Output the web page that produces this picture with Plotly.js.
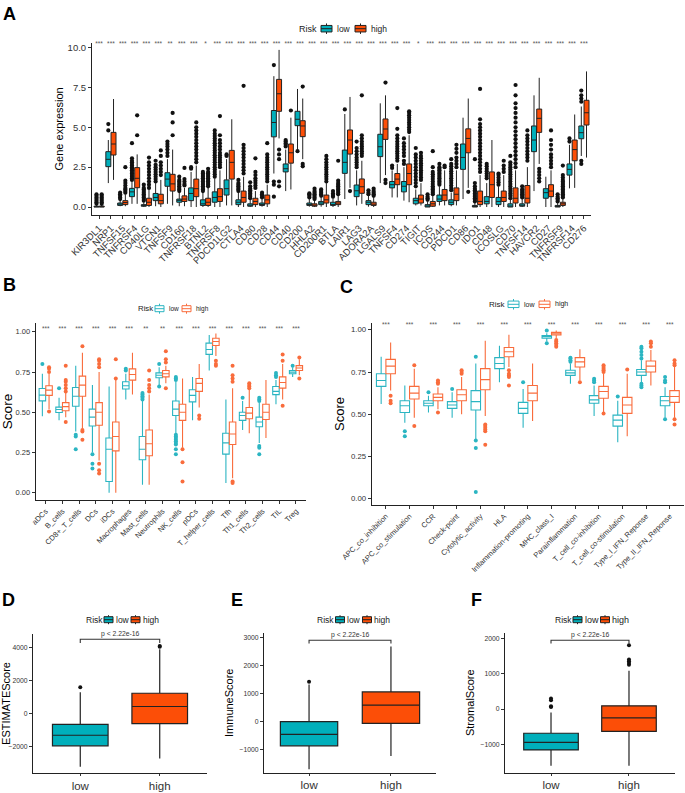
<!DOCTYPE html>
<html><head><meta charset="utf-8">
<script src="https://cdn.plot.ly/plotly-3.0.1.min.js"></script>
<style>html,body{margin:0;padding:0;background:#fff}#chart{width:685px;height:793px}</style>
</head><body><div id="chart"></div>
<script>
// ---------------- DATA ----------------
const legendTitle = "Risk";
const groups = ["low", "high"];
const genesA = ["KIR3DL1","NRP1","TNFSF15","TNFRSF4","CD40LG","VTCN1","TNFSF9","CD160","TNFRSF18","BTNL2","TNFRSF8","PDCD1LG2","CTLA4","CD80","CD28","CD44","CD40","CD200","HHLA2","CD200R1","BTLA","LAIR1","LAG3","ADORA2A","LGALS9","TNFSF4","CD274","TIGIT","ICOS","CD244","PDCD1","CD86","IDO1","CD48","ICOSLG","CD70","TNFSF14","HAVCR2","CD27","TNFRSF9","TNFRSF14","CD276"];
const sigA = ["***","***","***","***","***","***","**","***","***","*","***","***","***","***","***","***","***","***","***","***","***","***","***","***","***","***","***","*","***","***","***","***","***","***","***","***","***","***","***","***","***","***"];
// [q1, median, q3, lower whisker, upper whisker]
const A_low = [
[0,0.02,0.05,0,0.1],[2.53,2.99,3.47,1.5,4.2],[0.1,0.18,0.25,0.05,0.4],[0.65,0.95,1.17,0.2,1.6],[0.05,0.08,0.15,0,0.3],
[0.4,0.6,0.85,0.05,1.5],[1.3,1.75,2.15,0.2,3.0],[0.3,0.42,0.5,0.05,0.9],[0.4,0.85,1.2,0,2.2],[0.1,0.2,0.45,0,0.9],
[0.3,0.6,0.95,0,1.8],[0.75,1.15,1.7,0.1,3.0],[0.15,0.3,0.45,0,0.9],[0.05,0.1,0.2,0,0.45],[0.1,0.15,0.25,0.02,0.5],
[4.4,5.3,6.05,2.1,8.2],[2.2,2.4,2.7,1.0,3.6],[5.1,5.5,6.0,3.6,7.4],[0.1,0.15,0.25,0.02,0.5],[0.15,0.25,0.35,0.02,0.6],
[0.1,0.15,0.3,0,0.55],[2.11,2.8,3.57,0.5,5.83],[0.65,1.02,1.38,0.1,2.3],[0.15,0.3,0.4,0.02,0.7],[3.16,3.78,4.56,1.5,6.5],
[1.2,1.4,1.6,0.6,2.3],[0.95,1.3,1.6,0.4,2.5],[0.2,0.4,0.55,0.1,1.1],[0,0.05,0.15,0,0.35],[0.35,0.5,0.75,0.1,1.3],
[0.15,0.3,0.45,0.05,0.9],[2.36,3.11,3.95,0.5,5.6],[0,0.03,0.1,0,0.25],[0.2,0.35,0.65,0,1.5],[0.15,0.35,0.6,0,1.3],
[0,0.05,0.2,0,0.45],[0.05,0.1,0.2,0,0.5],[3.47,4.2,5.08,1.0,7.0],[0.55,0.9,1.15,0,1.9],[0,0.03,0.1,0,0.25],
[2.0,2.36,2.7,1.17,3.9],[4.28,4.66,5.08,3.2,6.3]];
const A_low_out = [
[0.2,0.3,0.4,0.5,0.6,0.7,0.8],[4.8,5.2],[0.5,0.6,0.7,0.8,0.9],[1.7,1.8,1.9,2.0,2.1,2.2,2.3,2.4,2.5,2.6,2.7,2.8,2.9,3.05,4.0],[0.4,0.5,0.6,0.7,0.8,0.9,1.0,1.1,1.2,1.4],
[1.6,1.75,1.9,2.05,2.2,2.35,2.5,2.65,2.9],[3.2,3.4,3.6,3.8,3.95,4.1],[1.0,1.1,1.2,1.3,1.4,1.5,1.6,1.7,1.9],[2.4,2.5],[1.0,1.1,1.2,1.3,1.4,1.5,1.6,1.7,1.8,1.9,2.0,2.1,2.2],
[1.9,2.05,2.2,2.35,2.5,2.65,2.8,2.95,3.1,3.25,3.4,3.55,3.7,3.85,4.0,4.15,4.3,4.45,4.6,4.8],[3.2,3.3],[1.0,1.1,1.2,1.3,1.4,1.5,1.7],[0.55,0.65,0.75,0.85,0.95,1.05,1.15,1.3,1.55],[0.6,0.7,0.8,0.9],
[0.65,1.4,1.6,8.9],[3.8,3.9,4.0,4.1,4.2],[3.5],[0.6,0.7,0.8,0.85],[0.7,0.8,0.9,1.0,1.1],
[0.65,0.75,0.85,1.0],[6.12],[2.5,2.65,2.8,2.95,3.1,3.3,3.5,3.7,4.1],[0.8,0.9,1.05],[],
[2.45,2.6],[2.7,2.9,3.2,3.4,3.6,3.8,4.0,4.3],[1.3,1.5,1.7,1.9,2.1,2.3,2.5,2.7,2.9,3.1,3.3,3.7],[0.45,0.55,0.65,0.8],[1.4,1.5,1.6,1.7,1.8,1.9,2.0,2.1,2.2,2.3,2.4,2.5,2.7],
[1.05,1.2,1.35,1.5,1.65,1.8,1.95,2.1,2.25,2.4,2.55,2.7,3.0],[],[0.35,0.45,0.55,0.65,0.75,0.85,0.95,1.05,1.15,1.3,1.5,3.0],[1.8,1.95,2.1,2.25,2.4,2.55,2.7],[1.4,1.55,1.7,1.85,2.0,2.1],
[0.55,0.7,0.85,1.0,1.15,1.3,1.45,1.6,1.75,1.9,2.05,2.2,2.35,2.5,2.65,2.8,3.2],[0.6,0.7,0.8,0.9,1.0,1.1,1.3],[],[],[0.35,0.45,0.55,0.65,0.8],
[4.1,4.3],[2.7,2.9,6.6,6.8,7.0,7.3]];
const A_high = [
[0,0.02,0.06,0,0.12],[3.26,3.95,4.68,1.7,6.77],[0.15,0.28,0.4,0.05,0.8],[1.21,1.8,2.47,0.2,3.3],[0.1,0.3,0.55,0,1.1],
[0.2,0.4,0.8,0,1.7],[1.0,1.45,2.05,0.1,3.6],[0.35,0.5,0.7,0.05,1.2],[0.65,1.15,1.75,0,2.6],[0.1,0.3,0.55,0,1.2],
[0.35,0.65,1.15,0,2.3],[1.75,2.8,3.55,0.1,5.5],[0.3,0.6,1.0,0,1.9],[0.15,0.35,0.55,0,1.0],[0.2,0.45,0.75,0,1.4],
[6.0,7.1,8.0,4.3,9.85],[2.75,3.4,3.95,1.1,5.6],[4.41,5.08,5.41,3.0,6.8],[0.05,0.1,0.2,0,0.4],[0.25,0.45,0.75,0,1.5],
[0.15,0.25,0.35,0,0.7],[3.32,4.2,4.83,1.2,6.9],[0.86,1.27,1.76,0.2,2.9],[0.1,0.18,0.3,0,0.6],[4.24,4.89,5.52,2.0,7.0],
[1.4,1.75,2.1,0.6,2.7],[1.4,2.1,2.7,0.3,4.5],[0.25,0.5,0.75,0.1,1.5],[0.05,0.2,0.35,0,0.7],[0.4,0.75,1.1,0.1,2.3],
[0.4,0.8,1.2,0.1,2.3],[3.4,4.3,4.9,1.2,6.8],[0.15,0.35,1.0,0,2.0],[0.6,1.4,2.2,0,4.2],[0.35,0.6,1.0,0,2.0],
[0.25,0.55,1.2,0,2.3],[0.25,0.55,1.35,0,2.5],[4.68,5.56,6.14,2.7,8.1],[0.65,1.0,1.4,0,2.3],[0.1,0.2,0.3,0,0.5],
[2.9,3.6,4.2,1.2,5.8],[5.14,5.91,6.69,3.1,8.5]];
const A_high_out = [
[0.2,0.3,0.4,0.5,0.6,0.7,0.8],[],[0.9,1.0,1.1,1.2,1.35,1.5,1.65,2.5],[4.5,5.75],[1.2,1.4,1.6,1.8,2.0,2.2,2.4,2.6,2.8,3.1],
[2.0,2.2,2.4,2.6,2.8,3.2,3.55],[4.5,5.3,5.9],[1.35,1.45,1.6,1.75,2.45],[2.8,3.0,3.2,3.4,3.6,3.8,4.0,4.2,4.4,4.6,4.8,5.0,5.3],[1.3,1.4,1.5,1.6,1.7,1.8,1.9,2.0,2.1,2.2,2.4],
[2.5,2.65,2.8,2.95,3.1,3.25,3.4,3.6,3.8,4.0,4.2,4.5,5.7],[],[2.1,2.3,2.5,2.7,2.9,3.1,3.3,3.5,3.7,3.9,7.6],[1.2,1.35,1.5,1.65,1.8,2.0,2.2,3.05],[1.6,1.75,1.9,2.05,2.2,2.35,2.5,2.65,2.8,2.95,3.1,3.3,4.0],
[1.3,1.6,3.0,3.3,3.6],[6.05],[2.55,2.7,7.55],[0.5,0.6,0.7,0.8,0.9,1.0,1.15],[1.6,1.75,1.9,2.05,2.2,2.35,2.5,2.65,2.8,3.0,3.2],
[0.8,0.9,1.0,1.1,1.2,1.3,1.4,1.5,1.65,2.9],[1.0],[3.2,3.35,3.5,3.65,3.8,3.95,4.1,4.3,4.5,7.0],[0.7,0.8,0.9,1.0,1.15],[1.5,1.7,7.8],
[2.9,3.05,3.2,3.35,3.5,3.65,3.8,3.95,4.1,4.3,4.5,4.9,6.2],[4.7,4.85,5.0,5.15,5.3,5.45,5.6,5.75,5.9,6.0],[1.7,1.85,2.0,2.15,2.3,2.45,2.6,2.75,2.9,3.05,3.2,3.4],[0.8,0.9,1.0,1.1,1.2,1.3,1.45,1.6,1.75,1.9,2.05,2.2,2.5,3.5],[2.5,2.6],
[2.5,2.7,2.9,3.1,3.4,3.65,3.9],[0.95],[2.2,2.4,2.6,2.8,3.0,3.2,3.4,3.6,3.8,4.0,4.2,4.4,4.6,4.8,5.0,5.2,5.5,7.4],[],[2.2,2.4,2.6,2.9],
[2.5,2.75,3.0,3.25,3.5,3.75,4.0,4.25,4.5,4.75,5.0,5.3,5.6,5.9,6.2,6.5,7.0,7.65],[2.9,3.1,3.3,3.5,3.7,3.9,4.1,4.3,4.5,4.8],[1.6,1.8,2.0,2.2,2.4],[2.5,2.7,2.9,3.1,3.3,3.6,3.9,4.2,4.8],[0.6,0.7,0.8,0.9,1.0,1.1,1.2,1.3,1.4,1.5,1.6,1.7,1.85,2.0,2.6],
[],[]];

const cellsB = ["aDCs","B_cells","CD8+_T_cells","DCs","iDCs","Macrophages","Mast_cells","Neutrophils","NK_cells","pDCs","T_helper_cells","Tfh","Th1_cells","Th2_cells","TIL","Treg"];
const sigB = ["***","***","***","***","***","***","**","**","***","***","***","***","***","***","***","***"];
const B_low = [[0.571,0.607,0.648,0.476,0.74],[0.499,0.517,0.532,0.45,0.59],[0.538,0.60,0.654,0.38,0.79],[0.415,0.47,0.52,0.25,0.67],[0.07,0.27,0.34,0,0.66],[0.645,0.665,0.69,0.58,0.74],[0.205,0.27,0.35,0.05,0.57],[0.715,0.73,0.745,0.67,0.78],[0.48,0.52,0.57,0.37,0.69],[0.565,0.605,0.64,0.45,0.72],[0.86,0.89,0.93,0.76,0.98],[0.24,0.31,0.37,0.06,0.58],[0.45,0.48,0.50,0.39,0.57],[0.41,0.44,0.47,0.31,0.56],[0.61,0.63,0.66,0.55,0.70],[0.74,0.75,0.76,0.72,0.78]];
const B_low_out = [[0.80],[0.65],[0.27,0.35,0.36],[0.15,0.18,0.24],[],[0.76,0.77],[0.58,0.59,0.60,0.61,0.62],[0.66,0.80],[0.24,0.27,0.30,0.31,0.32,0.33,0.34,0.35,0.36,0.70,0.71,0.72],[],[],[],[0.59],[0.24,0.28,0.29,0.57,0.58,0.59],[0.72,0.73,0.745],[0.79]];
const B_high = [[0.605,0.638,0.665,0.52,0.74],[0.51,0.535,0.56,0.47,0.62],[0.60,0.669,0.725,0.40,0.87],[0.42,0.50,0.56,0.2,0.75],[0.26,0.35,0.44,0,0.70],[0.70,0.735,0.77,0.61,0.87],[0.23,0.305,0.39,0.05,0.61],[0.72,0.74,0.76,0.68,0.79],[0.45,0.50,0.55,0.28,0.71],[0.63,0.68,0.71,0.53,0.80],[0.915,0.94,0.96,0.85,0.99],[0.30,0.365,0.44,0.09,0.65],[0.46,0.495,0.53,0.37,0.64],[0.455,0.50,0.55,0.34,0.70],[0.65,0.685,0.72,0.58,0.80],[0.76,0.775,0.79,0.73,0.83]];
const B_high_out = [[0.505,0.75,0.77,0.78],[0.44,0.63,0.65,0.67,0.69,0.70,0.79],[0.33,0.38,0.39,0.91],[0.12,0.14,0.18,0.78,0.80,0.82,0.83],[0.71,0.83],[],[0.63,0.65,0.67,0.70,0.76],[0.65,0.81,0.83,0.88],[0.07,0.19,0.27],[0.46,0.48],[0.79,0.80,0.82],[0.06,0.07,0.69,0.71,0.73,0.79],[0.65,0.66,0.67,0.68],[],[0.54,0.82,0.86],[0.71,0.84]];

const funcsC = ["APC_co_inhibition","APC_co_stimulation","CCR","Check-point","Cytolytic_activity","HLA","Inflammation-promoting","MHC_class_I","Parainflammation","T_cell_co-inhibition","T_cell_co-stimulation","Type_I_IFN_Reponse","Type_II_IFN_Reponse"];
const sigC = ["***","***","***","***","***","***","***","***","***","***","***","***","***"];
const C_low = [[0.665,0.70,0.74,0.56,0.84],[0.51,0.55,0.58,0.45,0.67],[0.55,0.565,0.58,0.51,0.61],[0.535,0.555,0.575,0.48,0.63],[0.525,0.575,0.64,0.35,0.80],[0.77,0.80,0.835,0.69,0.905],[0.505,0.535,0.57,0.42,0.65],[0.95,0.96,0.965,0.93,0.98],[0.73,0.745,0.76,0.68,0.80],[0.565,0.585,0.61,0.49,0.67],[0.43,0.465,0.495,0.335,0.58],[0.73,0.75,0.765,0.69,0.82],[0.55,0.58,0.605,0.48,0.66]];
const C_low_out = [[],[0.37,0.40],[0.63],[0.65],[0.04,0.30,0.345,0.84],[],[0.69],[0.92,0.995],[0.81,0.82,0.83,0.835],[0.69,0.70,0.71],[0.605],[0.66,0.67,0.68,0.83,0.85,0.87,0.89,0.90],[0.47,0.69,0.70,0.72]];
const C_high = [[0.74,0.785,0.825,0.64,0.925],[0.59,0.625,0.665,0.48,0.77],[0.58,0.60,0.62,0.53,0.66],[0.58,0.615,0.645,0.50,0.72],[0.645,0.705,0.77,0.49,0.935],[0.84,0.87,0.895,0.78,0.97],[0.58,0.625,0.67,0.46,0.80],[0.97,0.98,0.985,0.95,0.995],[0.78,0.81,0.835,0.70,0.885],[0.595,0.635,0.665,0.51,0.74],[0.505,0.555,0.60,0.37,0.74],[0.75,0.785,0.815,0.67,0.88],[0.57,0.605,0.64,0.48,0.78]];
const C_high_out = [[0.565,0.58,0.61],[0.43,0.79],[0.51,0.68,0.69,0.70],[0.74,0.75,0.76],[0.32,0.40,0.41,0.42,0.43,0.44],[0.67,0.72,0.73,0.74,0.76],[],[0.90,0.91,0.92,0.93,0.94],[0.69],[0.505,0.75,0.76,0.77,0.78,0.79],[0.765],[0.90,0.92,0.93],[0.44,0.47,0.79,0.80,0.82]];

// Panels D-F: [q1, median, q3, lower whisker, upper whisker] for low, high
const D_stats = [[-1940,-1300,-640,-3200,1300],[-600,440,1240,-2700,3900]];
const D_out = [[1600],[4050,4100]];
const E_stats = [[-860,-450,0,-1690,1320],[-60,590,1060,-1220,2680]];
const E_out = [[1420],[]];
const F_stats = [[-1155,-940,-685,-1600,-100],[-630,-250,90,-1600,1080]];
const F_out = [[60,80,250,300],[1250,1300,1350,1400,1800]];
const pLabel = "p < 2.22e-16";
const D_bracket = [4280, 4500];
const E_bracket = [2780, 2900];
const F_bracket = [1850, 1945];

// ---------------- BUILD ----------------
const FONT = "Liberation Sans, Arial, sans-serif";
const FILL = {low:"#00AFBB", high:"#FC4E07"};
const LINEBC = {low:"#2BB5C2", high:"#F96C3C"};
const traces = [];
const shapes = [];
const annotations = [];
const px = v => v/685, py = v => 1 - v/793;

function addBoxes(stats, outs, gi, o) {
  const name = groups[gi];
  const pos = stats.map((s, i) => i + o.off[gi]);
  traces.push({
    type:"box", name:name, x:pos,
    q1:stats.map(s=>s[0]), median:stats.map(s=>s[1]), q3:stats.map(s=>s[2]),
    lowerfence:stats.map(s=>s[3]), upperfence:stats.map(s=>s[4]),
    width:o.w, whiskerwidth:0, boxpoints:false,
    fillcolor:o.fill[name], line:{color:o.line[name], width:o.lw},
    xaxis:o.xa, yaxis:o.ya, showlegend:false, hoverinfo:"skip"
  });
  const ox = [], oy = [];
  outs.forEach((arr, i) => arr.forEach(v => { ox.push(pos[i]); oy.push(v); }));
  traces.push({type:"scatter", mode:"markers", x:ox, y:oy, xaxis:o.xa, yaxis:o.ya,
    marker:{color:o.pt ? o.pt : o.line[name], size:o.ps}, showlegend:false, hoverinfo:"skip"});
}
function sigText(labels, yv, xa, ya, size) {
  traces.push({type:"scatter", mode:"text", x:labels.map((s,i)=>i), y:labels.map(()=>yv), text:labels,
    textfont:{size:size, color:"#555", family:FONT}, xaxis:xa, yaxis:ya, showlegend:false, hoverinfo:"skip", cliponaxis:false});
}
// ggplot-style legend key: title, then for each group a small box glyph + label
function addLegend(L) {
  annotations.push({text:legendTitle, x:px(L.titleX), y:py(L.y), xref:"paper", yref:"paper", xanchor:"left", yanchor:"middle",
    showarrow:false, borderpad:0, font:{size:L.tfs, color:"#222", family:FONT}});
  groups.forEach((g, i) => {
    const [x0, x1] = L.glyph[i];
    const xc = (x0 + x1) / 2, top = L.y - L.h/2, bot = L.y + L.h/2;
    shapes.push({type:"rect", xref:"paper", yref:"paper", x0:px(x0), x1:px(x1), y0:py(bot), y1:py(top),
      fillcolor:L.fill[g], line:{color:L.line[g], width:1}});
    shapes.push({type:"line", xref:"paper", yref:"paper", x0:px(x0), x1:px(x1), y0:py(L.y), y1:py(L.y), line:{color:L.line[g], width:1}});
    shapes.push({type:"line", xref:"paper", yref:"paper", x0:px(xc), x1:px(xc), y0:py(top), y1:py(top - L.stub), line:{color:L.line[g], width:1}});
    shapes.push({type:"line", xref:"paper", yref:"paper", x0:px(xc), x1:px(xc), y0:py(bot), y1:py(bot + L.stub), line:{color:L.line[g], width:1}});
    annotations.push({text:g, x:px(L.textX[i]), y:py(L.y), xref:"paper", yref:"paper", xanchor:"left", yanchor:"middle",
      showarrow:false, borderpad:0, font:{size:L.fs, color:"#222", family:FONT}});
  });
}

// A
const oA = {off:[-0.22,0.22], w:0.42, fill:FILL, line:{low:"#222",high:"#222"}, lw:1, pt:"#111", ps:4.2, xa:"x", ya:"y"};
addBoxes(A_low, A_low_out, 0, oA); addBoxes(A_high, A_high_out, 1, oA);
sigText(sigA, 10.18, "x", "y", 6.5);
// B
const oB = {off:[-0.2,0.2], w:0.39, fill:{low:"#fff",high:"#fff"}, line:LINEBC, lw:1.1, ps:4, xa:"x2", ya:"y2"};
addBoxes(B_low, B_low_out, 0, oB); addBoxes(B_high, B_high_out, 1, oB);
sigText(sigB, 1.014, "x2", "y2", 6.5);
// C
const oC = {off:[-0.2,0.2], w:0.4, fill:{low:"#fff",high:"#fff"}, line:LINEBC, lw:1.1, ps:4, xa:"x3", ya:"y3"};
addBoxes(C_low, C_low_out, 0, oC); addBoxes(C_high, C_high_out, 1, oC);
sigText(sigC, 1.026, "x3", "y3", 6.5);
// D-F
[[D_stats,D_out,"x4","y4",D_bracket],[E_stats,E_out,"x5","y5",E_bracket],[F_stats,F_out,"x6","y6",F_bracket]].forEach(p => {
  const o = {off:[0,1], w:0.7, fill:FILL, line:{low:"#222",high:"#222"}, lw:1.2, pt:"#111", ps:4, xa:p[2], ya:p[3]};
  addBoxes([p[0][0]], [p[1][0]], 0, o);
  addBoxes([p[0][1]], [p[1][1]], 1, o);
  traces.push({type:"scatter", mode:"lines", x:[0,0,1,1], y:[p[4][0],p[4][1],p[4][1],p[4][0]],
    line:{color:"#333", width:1.1}, xaxis:p[2], yaxis:p[3], showlegend:false, hoverinfo:"skip"});
  annotations.push({text:pLabel, x:0.5, y:p[4][1], xref:p[2], yref:p[3], yanchor:"bottom", showarrow:false, borderpad:0,
    font:{size:6.8, color:"#333", family:FONT}});
});

// legends
const LFILL_BC = {low:"#fff", high:"#fff"};
const LDARK = {low:"#222", high:"#222"};
addLegend({titleX:298, y:28.7, h:6.5, stub:2, glyph:[[321,332],[355,366]], textX:[336,370], tfs:9, fs:8.5, fill:FILL, line:LDARK});
addLegend({titleX:137, y:308.7, h:6, stub:2, glyph:[[155,164],[182,191]], textX:[167.5,194.5], tfs:7.8, fs:6.5, fill:LFILL_BC, line:LINEBC});
addLegend({titleX:487.5, y:304.3, h:6.5, stub:2, glyph:[[508,519],[539,550]], textX:[523,554], tfs:8, fs:7, fill:LFILL_BC, line:LINEBC});
addLegend({titleX:85, y:619.7, h:6, stub:1.5, glyph:[[104,113],[131,140]], textX:[115,142], tfs:8.5, fs:8.5, fill:FILL, line:LDARK});
addLegend({titleX:315.5, y:619.7, h:6, stub:1.5, glyph:[[335.5,344.5],[362.5,371.5]], textX:[346,373], tfs:8.5, fs:8.5, fill:FILL, line:LDARK});
addLegend({titleX:554, y:619.7, h:6, stub:1.5, glyph:[[573,582],[600.5,609.5]], textX:[583.5,611], tfs:8.5, fs:9, fill:FILL, line:LDARK});

// panel letters
[["A",1,2],["B",1,273],["C",338,275],["D",0,588],["E",229,588],["F",469,588]].forEach(l => {
  annotations.push({text:"<b>"+l[0]+"</b>", x:px(l[1]), y:py(l[2]), xref:"paper", yref:"paper", xanchor:"left", yanchor:"top",
    showarrow:false, font:{size:18, color:"#000", family:FONT}});
});

// ---------------- LAYOUT ----------------
function xax(dom, range, vals, text, size, angle, anchor, extra) {
  return Object.assign({domain:dom, range:range, tickvals:vals, ticktext:text, tickangle:angle, anchor:anchor, showline:true, linecolor:"#222", linewidth:1,
    ticks:"outside", ticklen:3, tickcolor:"#333", showgrid:false, zeroline:false, tickfont:{size:size, color:"#333", family:FONT}, fixedrange:true}, extra || {});
}
function yax(dom, range, vals, fmt, size, title, tsize, anchor, standoff) {
  return {domain:dom, range:range, tickvals:vals, tickformat:fmt, showline:true, linecolor:"#222", linewidth:1,
    ticks:"outside", ticklen:3, tickcolor:"#333", showgrid:false, zeroline:false, anchor:anchor,
    tickfont:{size:size, color:"#333", family:FONT}, title:{text:title, font:{size:tsize, color:"#000", family:FONT}, standoff:standoff}, fixedrange:true};
}
const idx = a => a.map((s,i)=>i);
const layout = {
  width:685, height:793, margin:{l:0,r:0,t:0,b:0}, paper_bgcolor:"#fff", plot_bgcolor:"#fff",
  font:{family:FONT, color:"#333"}, showlegend:false, boxmode:"overlay",
  xaxis: xax([px(92),px(591)], [-0.6,41.6], idx(genesA), genesA, 9.5, -45, "y"),
  yaxis: yax([py(215),py(42.7)], [-0.5,10.3], [0,2.5,5,7.5,10], ".1f", 9.5, "Gene expression", 11, "x", 1),
  xaxis2: xax([px(35.7),px(306)], [-0.6,15.6], idx(cellsB), cellsB, 7.5, -45, "y2"),
  yaxis2: yax([py(500),py(323)], [-0.045,1.055], [0,0.25,0.5,0.75,1], ".2f", 7.5, "Score", 13.5, "x2", 4),
  xaxis3: xax([px(371.7),px(684)], [-0.6,12.6], idx(funcsC), funcsC, 7.5, -45, "y3"),
  yaxis3: yax([py(505),py(323)], [-0.037,1.04], [0,0.25,0.5,0.75,1], ".2f", 7.8, "Score", 13, "x3", 3),
  xaxis4: xax([px(33),px(207)], [-0.595,1.595], [0,1], groups, 11.5, 0, "y4", {ticklen:2}),
  yaxis4: yax([py(773),py(634)], [-3580,4820], [-2000,0,2000,4000], "d", 6.8, "ESTIMATEScore", 11, "x4", 3),
  xaxis5: xax([px(264),px(436)], [-0.55,1.55], [0,1], groups, 11.5, 0, "y5", {ticklen:2}),
  yaxis5: yax([py(772.5),py(633)], [-1808,3156], [-1000,0,1000,2000,3000], "d", 6.8, "ImmuneScore", 11, "x5", 3),
  xaxis6: xax([px(505),px(675)], [-0.59,1.59], [0,1], groups, 11.5, 0, "y6", {ticklen:2}),
  yaxis6: yax([py(772.5),py(633)], [-1794,2149], [-1000,0,1000,2000], "d", 6.8, "StromalScore", 11, "x6", 3),
  shapes: shapes,
  annotations: annotations
};
Plotly.newPlot("chart", traces, layout, {staticPlot:true, displayModeBar:false});
</script></body></html>
